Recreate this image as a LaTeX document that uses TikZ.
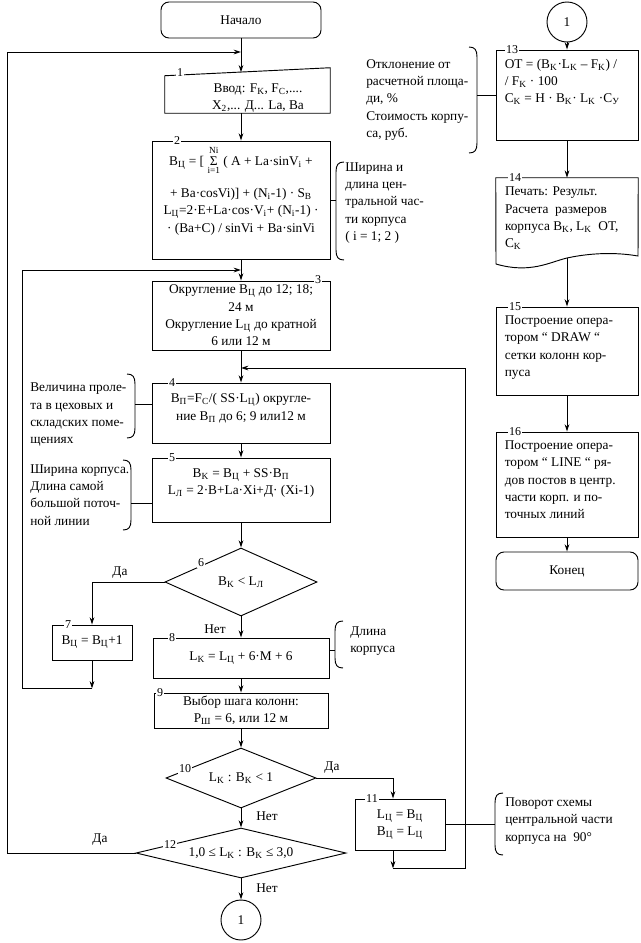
\documentclass[tikz,border=0pt]{standalone}
\usepackage{fontspec}
\setmainfont{Liberation Serif}
\usepackage{amsmath}
\usetikzlibrary{shapes.geometric,arrows.meta}
\newcommand\sbs[1]{\textsubscript{#1}}
\newcommand\brL[3]{\draw[ln] (#1+8,#2) .. controls (#1+2,#2) and (#1,#2+3) .. (#1,#2+10) -- (#1,#3-10) .. controls (#1,#3-3) and (#1+2,#3) .. (#1+8,#3);}
\newcommand\brR[3]{\draw[ln] (#1-8,#2) .. controls (#1-2,#2) and (#1,#2+3) .. (#1,#2+10) -- (#1,#3-10) .. controls (#1,#3-3) and (#1-2,#3) .. (#1-8,#3);}
\begin{document}
\begin{tikzpicture}[x=0.75pt,y=-0.75pt,
 font=\fontsize{10}{13}\selectfont,
 ln/.style={line width=0.7pt},
 arr/.style={ln,-{Stealth[length=5.5pt,width=3.5pt]}},
 sz/.style 2 args={minimum width=#1*0.75pt,minimum height=#2*0.75pt},
 box/.style={draw,ln,rectangle,inner sep=0pt,align=center},
 rbox/.style={box,rounded corners=6pt},
 dia/.style={draw,ln,diamond,inner sep=0pt,align=center},
 conn/.style={draw,ln,circle,inner sep=0pt,minimum size=30pt},
 num/.style={fill=white,inner sep=0.8pt,font=\fontsize{9}{10}\selectfont},
 txt/.style={inner sep=0pt,align=center},
 ltxt/.style={inner sep=0pt,align=left},
 lbl/.style={inner sep=1pt}]
\path[use as bounding box,fill=white] (0,0) rectangle (640,943);

% ---- main column
\node[rbox,sz={160}{36}] (start) at (241,20) {Начало};
\node[sz={165}{45},inner sep=0pt] (b1) at (247.5,90.5) {};
\draw[ln] (b1.south west) -- ([yshift=-6pt]b1.north west) -- (b1.north east) -- (b1.south east) -- cycle;
\node[txt] (t1) at (258,98) {Ввод: F\sbs{K}, F\sbs{C},....\\X\sbs{2},... Д... La, Ва};
\node[num] (n1) at (180,73) {1};

\node[box,sz={178}{118}] (b2) at (241,200) {};
\node[txt,anchor=north] (t2) at ([yshift=-4pt]b2.north) {B\sbs{Ц} = [ $\mathop{\text{Σ}}\limits_{\text{i=1}}^{\text{Ni}}$ ( A + La·sinV\sbs{i} +\\[9pt]+ Ba·cosVi)] + (N\sbs{i}-1) · S\sbs{B}\\L\sbs{Ц}=2·E+La·cos·V\sbs{i}+ (N\sbs{i}-1) ·\\· (Ba+C) / sinVi + Ba·sinVi};
\node[num] (n2) at (177,141) {2};

\node[box,sz={178}{69}] (b3) at (241,315.5) {Округление B\sbs{Ц} до 12; 18;\\24 м\\Округление L\sbs{Ц} до кратной\\6 или 12 м};
\node[num] (n3) at (318,280) {3};

\node[box,sz={178}{60}] (b4) at (241,413) {};
\node[txt,anchor=north] (t4) at ([yshift=-8pt]b4.north) {B\sbs{П}=F\sbs{C}/( SS·L\sbs{Ц}) округле-\\ние B\sbs{П} до 6; 9 или12 м};
\node[num] (n4) at (172,383) {4};

\node[box,sz={178}{64}] (b5) at (241,490) {};
\node[txt,anchor=north] (t5) at ([yshift=-8pt]b5.north) {B\sbs{K} = B\sbs{Ц} + SS·B\sbs{П}\\L\sbs{Л} = 2·B+La·Xi+Д· (Xi-1)};
\node[num] (n5) at (172,458) {5};

\node[dia,aspect=2.2,sz={152}{68}] (d6) at (241,582) {B\sbs{K} < L\sbs{Л}};
\node[num] (n6) at (201,563) {6};

\node[box,sz={80}{35}] (b7) at (92,642.5) {B\sbs{Ц} = B\sbs{Ц}+1};
\node[num] (n7) at (68,625) {7};

\node[box,sz={176}{40}] (b8) at (241,658) {L\sbs{K} = L\sbs{Ц} + 6·M + 6};
\node[num] (n8) at (172,638) {8};

\node[box,sz={174}{35}] (b9) at (241,710.5) {Выбор шага колонн:\\P\sbs{Ш} = 6, или 12 м};
\node[num] (n9) at (160,693) {9};

\node[dia,aspect=2.5,sz={150}{60}] (d10) at (241,778) {L\sbs{K} : B\sbs{K} < 1};
\node[num] (n10) at (185,769) {10};

\node[dia,aspect=4.2,sz={210}{50}] (d12) at (241,853) {1,0 ≤ L\sbs{K} : B\sbs{K} ≤ 3,0};
\node[num] (n12) at (170,845) {12};

\node[conn] (c1) at (241,920) {1};

\node[box,sz={90}{51}] (b11) at (400,824.5) {L\sbs{Ц} = B\sbs{Ц}\\B\sbs{Ц} = L\sbs{Ц}};
\node[num] (n11) at (372,799) {11};

% ---- right column
\node[conn] (c2) at (567,22) {1};
\node[box,sz={142}{90}] (b13) at (567,95) {};
\node[ltxt,anchor=north west] (t13) at ([shift={(9,9)}]b13.north west) {OT = (B\sbs{K}·L\sbs{K} – F\sbs{K}) /\\/ F\sbs{K} · 100\\C\sbs{K} = Н · B\sbs{K}· L\sbs{K} ·C\sbs{У}};
\node[num] (n13) at (512,50) {13};

\node[sz={142}{84},inner sep=0pt] (b14) at (567,220) {};
\draw[ln] (b14.north west) -- (b14.north east) -- (638,256) .. controls (615,252) and (590,253) .. (567,258) .. controls (550,262) and (530,274) .. (496,264) -- cycle;
\coordinate (b14b) at (567,258);
\node[ltxt,anchor=north west] (t14) at ([shift={(9,9)}]b14.north west) {Печать: Результ.\\Расчета \ размеров\\корпуса B\sbs{K}, L\sbs{K} \ OT,\\C\sbs{K}};
\node[num] (n14) at (515,178) {14};

\node[box,sz={142}{88}] (b15) at (567,351) {};
\node[ltxt,anchor=north west] (t15) at ([shift={(9,9)}]b15.north west) {Построение опера-\\тором “ DRAW “\\сетки колонн кор-\\пуса};
\node[num] (n15) at (515,307) {15};

\node[box,sz={142}{105}] (b16) at (567,484.5) {};
\node[ltxt,anchor=north west] (t16) at ([shift={(9,9)}]b16.north west) {Построение опера-\\тором “ LINE “ ря-\\дов постов в центр.\\части корп. и по-\\точных линий};
\node[num] (n16) at (515,432) {16};

\node[rbox,sz={142}{38}] (fin) at (567,571) {Конец};

% ---- connectors
\coordinate (j1) at (241,52);
\coordinate (b1t) at (241,72.3);
\draw[arr] (start.south) -- (b1t);
\draw[arr] (b1.south -| j1) -- (b2.north);
\draw[arr] (b2.south) -- (b3.north);
\draw[arr] (b3.south) -- (b4.north);
\draw[arr] (b4.south) -- (b5.north);
\draw[arr] (b5.south) -- (d6.north);
\draw[arr] (d6.west) -| (b7.north);
\draw[arr] (d6.south) -- (b8.north);
\draw[arr] (b8.south) -- (b9.north);
\draw[arr] (b9.south) -- (d10.north);
\draw[arr] (d10.south) -- (d12.north);
\draw[arr] (d12.south) -- (c1.north);
\coordinate (b11in) at ([xshift=-5.25pt]b11.north);
\draw[arr] (d10.east) -| (b11in);

\draw[arr] (d12.west) -- ++(-128,0) |- (j1);
\draw[arr] (b7.south) -- ++(0,28) coordinate (k7);
\coordinate (j2) at (241,270);
\draw[arr] (k7) -- ++(-70,0) |- (j2);
\coordinate (j3) at (241,368);
\draw[arr] ([xshift=-5.25pt]b11.south) -- ++(0,18) coordinate (k11);
\draw[arr] (k11) -- ++(72,0) |- (j3);

\draw[arr] (c2.south) -- (b13.north);
\draw[arr] (b13.south) -- (b14.north);
\draw[arr] (b14b) -- (b15.north);
\draw[arr] (b15.south) -- (b16.north);
\draw[arr] (b16.south) -- (fin.north);

% ---- annotations
\brR{477}{47}{153}
\coordinate (a13) at (477,95);
\draw[ln] (a13) -- (b13.west);
\node[ltxt,anchor=west] (A13) at (366,100) {Отклонение от\\расчетной площа-\\ди, \%\\Стоимость корпу-\\са, руб.};

\brL{336}{162}{260}
\coordinate (a2) at (336,200);
\draw[ln] (b2.east) -- (a2);
\node[ltxt,anchor=west] (A2) at (345,203) {Ширина и\\длина цен-\\тральной час-\\ти корпуса\\( i = 1; 2 )};

\brR{135}{374}{438}
\coordinate (a4) at (135,404);
\draw[ln] (a4) -- (b4.west |- a4);
\node[ltxt,anchor=west] (A4) at (30,415) {Величина проле-\\та в цеховых и\\складских поме-\\щениях};

\brR{131}{460}{530}
\coordinate (a5) at (131,503);
\draw[ln] (a5) -- (b5.west |- a5);
\node[ltxt,anchor=west] (A5) at (30,495) {Ширина корпуса.\\Длина самой\\большой поточ-\\ной линии};

\brL{335}{621}{668}
\coordinate (a8) at (335,650);
\draw[ln] (b8.east |- a8) -- (a8);
\node[ltxt,anchor=west] (A8) at (350,641) {Длина\\корпуса};

\brL{495}{793}{855}
\coordinate (a11) at (495,824.5);
\draw[ln] (b11.east) -- (a11);
\node[ltxt,anchor=west] (A11) at (505,821) {Поворот схемы\\центральной части\\корпуса на \ 90°};

% ---- branch labels
\node[lbl] (y6) at (120,573) {Да};
\node[lbl] (no6) at (215,629) {Нет};
\node[lbl] (y10) at (332,768) {Да};
\node[lbl] (no10) at (267,816) {Нет};
\node[lbl] (y12) at (100,840) {Да};
\node[lbl] (no12) at (267,888) {Нет};
\end{tikzpicture}
\end{document}
